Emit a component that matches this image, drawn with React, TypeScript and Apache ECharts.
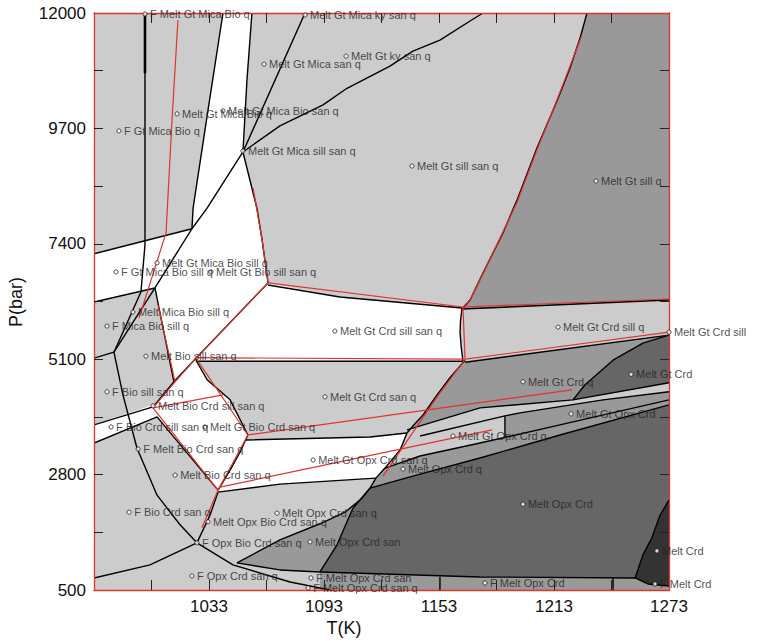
import React, { useEffect, useRef } from "react";
import * as echarts from "echarts";

type Pt = [number, number];

// ---- axes ----
const xTicks = [1003, 1033, 1063, 1093, 1123, 1153, 1183, 1213, 1243];
const xTickLabels = [1033, 1093, 1153, 1213, 1273];
const yTicks = [1650, 2800, 3950, 5100, 6250, 7400, 8550, 9700, 10850];
const yTickLabels = [500, 2800, 5100, 7400, 9700, 12000];

// ---- filled fields (T in K, P in bar) ----
const fieldMicaStrip: Pt[] = [[1040.3, 12000], [1055.4, 12000], [1052.8, 10660], [1050.7, 9230], [1058, 8110], [1060.7, 7480], [1063.8, 6620], [1026.2, 5120], [1014.7, 4650], [1004.8, 6520], [1024.1, 7700], [1024.7, 8110], [1032.5, 10070]];
const fieldBioSillBand: Pt[] = [[973, 7200], [1024.1, 7700], [1004.8, 6520], [973, 6240]];
const fieldCrdSillSan: Pt[] = [[1063.8, 6620], [1101.3, 6340], [1165, 6120], [1164, 5620], [1165.5, 5060], [1026.2, 5060], [1026.2, 5120]];
const fieldBioCrd: Pt[] = [[1014.7, 4650], [1026.2, 5120], [1032, 4690], [1044, 4290], [1053.3, 3590], [1049.2, 3250], [1044, 2890], [1037.7, 2490], [1005.9, 3950], [1003.8, 4130]];
const fieldFBioCrd: Pt[] = [[973, 3790], [1003.8, 4190], [1005.9, 3950], [973, 3430]];
const fieldGtOpxCrdSan: Pt[] = [[1052.3, 3490], [1117, 3550], [1136.3, 3630], [1132.7, 3290], [1124.8, 2930], [1120.1, 2730], [1070, 2610], [1037.7, 2450], [1044, 2890], [1049.2, 3250]];
const fieldGtSillQ: Pt[] = [[1230.2, 12000], [1273, 12000], [1273, 6280], [1165, 6100], [1169.2, 6280], [1176, 6820], [1186.4, 7620], [1193.7, 8270], [1204.1, 9310], [1214.6, 10250], [1221.3, 10900], [1226.6, 11500]];
const fieldGtCrdQ: Pt[] = [[1166.6, 5040], [1273, 5580], [1259.4, 5420], [1243.8, 5080], [1229.2, 4590], [1222.9, 4290], [1174.4, 4130], [1136.3, 3690], [1139.4, 3770], [1144.7, 3990], [1152, 4390], [1158.7, 4730]];
const fieldGtCrd: Pt[] = [[1273, 5580], [1273, 4630], [1222.9, 4290], [1229.2, 4590], [1243.8, 5080], [1259.4, 5420]];
const fieldGtOpxCrd: Pt[] = [[1187.4, 3970], [1195.3, 4030], [1238.6, 4290], [1273, 4450], [1273, 4290], [1216.1, 3790], [1187.4, 3550]];
const fieldOpxCrdQ: Pt[] = [[1124.8, 2930], [1143.1, 3170], [1174.4, 3430], [1216.1, 3790], [1273, 4290], [1273, 4190], [1216.1, 3590], [1174.4, 3130], [1143.1, 2810], [1117, 2530], [1120.1, 2730]];
const fieldOpxCrd: Pt[] = [[1117, 2530], [1143.1, 2810], [1174.4, 3130], [1216.1, 3590], [1273, 4190], [1273, 2290], [1268.3, 1990], [1264.1, 1540], [1259.4, 1200], [1255.3, 740], [1174.4, 760], [1090.9, 860], [1099.8, 1400], [1105, 1860], [1108.1, 2130]];
const fieldCrd: Pt[] = [[1273, 2290], [1268.3, 1990], [1264.1, 1540], [1259.4, 1200], [1255.3, 740], [1262, 620], [1273, 580]];
const fieldFMeltOpxCrd: Pt[] = [[1090.9, 860], [1174.4, 760], [1255.3, 740], [1262, 620], [1273, 580], [1273, 500], [1090.9, 500]];
const fieldOpxCrdSan: Pt[] = [[1047.6, 1040], [1070, 1500], [1090.9, 1820], [1104, 2050], [1112.8, 2330], [1117, 2530], [1108.1, 2130], [1105, 1860], [1099.8, 1400], [1090.9, 860], [1070, 900]];

// ---- black phase boundaries ----
const bV1: Pt[] = [[999.6, 12000], [999.6, 7380], [997.5, 6440], [983.4, 5240]];
const bV1Thick: Pt[] = [[999.6, 12000], [999.6, 10800]];
const bBandTop: Pt[] = [[973, 7200], [1024.1, 7700]];
const bBandBottom: Pt[] = [[973, 6240], [1004.8, 6520]];
const bLine3: Pt[] = [[1024.1, 7700], [1004.8, 6520]];
const bStripLeft: Pt[] = [[1040.3, 12000], [1032.5, 10070], [1024.7, 8110], [1024.1, 7700]];
const bStripRight: Pt[] = [[1055.4, 12000], [1052.8, 10660], [1050.7, 9230]];
const bStripBottom: Pt[] = [[1050.7, 9230], [1032, 8110], [1024.1, 7700]];
const bKy: Pt[] = [[1050.7, 9230], [1083.1, 12000]];
const bSill: Pt[] = [[1050.7, 9230], [1070, 9750], [1092.5, 10170], [1105, 10500], [1127.4, 10940], [1139.4, 11240], [1153.5, 11460], [1169.2, 11840], [1176, 12000]];
const bMicaOut: Pt[] = [[1050.7, 9230], [1058, 8110], [1060.7, 7480], [1063.8, 6620]];
const bLine5: Pt[] = [[1004.8, 6520], [1014.7, 4650]];
const bLine6: Pt[] = [[1004.8, 6520], [983.4, 5240]];
const bLine8: Pt[] = [[973, 5120], [983.4, 5240]];
const bLine10: Pt[] = [[1063.8, 6620], [1026.2, 5120], [1014.7, 4650]];
const bLine11: Pt[] = [[1014.7, 4650], [1003.8, 4150], [973, 3790]];
const bW5Bottom: Pt[] = [[973, 3430], [1005.9, 3950], [1037.7, 2490]];
const bW3Top: Pt[] = [[1063.8, 6580], [1101.3, 6340], [1165, 6120]];
const bW3Right: Pt[] = [[1165, 6120], [1164.2, 5860], [1164, 5620], [1164.6, 5340], [1165.5, 5060]];
const bW3Bottom: Pt[] = [[1026.2, 5060], [1166.6, 5060]];
const bJ3J4: Pt[] = [[1026.2, 5080], [1032, 4690], [1044, 4290], [1053.3, 3590]];
const bW6Top: Pt[] = [[1052.3, 3490], [1117, 3550], [1136.3, 3630]];
const bW4Lower: Pt[] = [[1053.3, 3590], [1049.2, 3250], [1044, 2890], [1037.7, 2490]];
const bW6Bottom: Pt[] = [[1037.7, 2450], [1070, 2610], [1120.1, 2730]];
const bG: Pt[] = [[1037.7, 2450], [1033.5, 1990], [1026.7, 1440]];
const bJag: Pt[] = [[1166.6, 5080], [1158.7, 4730], [1152, 4390], [1144.7, 3990], [1139.4, 3770], [1136.3, 3630], [1132.7, 3290], [1124.8, 2930], [1120.1, 2730], [1117, 2530], [1108.1, 2130], [1105, 1860], [1099.8, 1400], [1090.9, 860]];
const bGtSill: Pt[] = [[1230.2, 12000], [1226.6, 11500], [1221.3, 10900], [1214.6, 10250], [1204.1, 9310], [1193.7, 8270], [1186.4, 7620], [1176, 6820], [1169.2, 6280], [1165, 6100]];
const bGtSillBottom: Pt[] = [[1165, 6100], [1273, 6280]];
const bCrdSillBottom: Pt[] = [[1166.6, 5040], [1273, 5580]];
const bWedgeTop: Pt[] = [[1273, 5580], [1259.4, 5420], [1243.8, 5080], [1229.2, 4590], [1222.9, 4290]];
const bAlpha: Pt[] = [[1273, 4630], [1222.9, 4290], [1174.4, 4130], [1136.3, 3690]];
const bBeta: Pt[] = [[1143.1, 3570], [1187.4, 3970], [1195.3, 4030], [1238.6, 4290], [1273, 4450]];
const bGamma: Pt[] = [[1124.8, 2930], [1143.1, 3170], [1174.4, 3430], [1216.1, 3790], [1273, 4290]];
const bDelta: Pt[] = [[1117, 2530], [1143.1, 2810], [1174.4, 3130], [1216.1, 3590], [1273, 4190]];
const bDivider: Pt[] = [[1187.4, 3970], [1187.4, 3550]];
const bCrd: Pt[] = [[1273, 2290], [1268.3, 1990], [1264.1, 1540], [1259.4, 1200], [1255.3, 740], [1262, 620], [1273, 580]];
const bStripTop: Pt[] = [[1070, 900], [1090.9, 860], [1174.4, 760], [1255.3, 740]];
const bVert1: Pt[] = [[1153.5, 760], [1153.5, 500]];
const bVert2: Pt[] = [[1243.8, 740], [1243.8, 500]];
const bCurve: Pt[] = [[983.4, 5240], [988.1, 4390], [995.4, 3330], [1005.9, 2390], [1017.9, 1800], [1026.7, 1440], [1045.5, 1000], [1075.3, 660], [1096.1, 500]];
const bF: Pt[] = [[973, 740], [1002.2, 1000], [1026.7, 1440]];
const bM6Top: Pt[] = [[1047.6, 1040], [1070, 1500], [1090.9, 1820], [1104, 2050], [1112.8, 2330], [1117, 2530]];
const bM6Bottom: Pt[] = [[1047.6, 1040], [1070, 900]];

// ---- red reaction lines ----
const r1: Pt[] = [[1016.8, 11860], [1013.7, 9870], [1010.6, 7620], [996.5, 5920]];
const r2: Pt[] = [[1006.4, 6180], [1015.3, 4650]];
const r3: Pt[] = [[1015.3, 4650], [1026.2, 5120], [1063.8, 6620]];
const r4: Pt[] = [[1056, 8510], [1060.7, 7480], [1063.8, 6620]];
const r5: Pt[] = [[1063.8, 6620], [1165.5, 6140]];
const r6: Pt[] = [[1026.2, 5130], [1165.5, 5100]];
const r7: Pt[] = [[1165.5, 6140], [1273, 6300]];
const r8: Pt[] = [[1165.5, 6140], [1166.6, 5100]];
const r9: Pt[] = [[1166.6, 5100], [1273, 5640]];
const r10: Pt[] = [[1166.6, 5100], [1152, 4350], [1123.8, 2770]];
const r11: Pt[] = [[1165.5, 6140], [1169.2, 6280], [1180.7, 7180], [1193.7, 8230], [1204.1, 9270], [1214.6, 10270], [1227.6, 11560]];
const r12: Pt[] = [[1026.2, 5120], [1053.3, 3590]];
const r13: Pt[] = [[1053.3, 3590], [1222.4, 4490]];
const r14: Pt[] = [[1053.3, 3590], [1037.7, 2490], [1029.3, 1740]];
const r15: Pt[] = [[1040.3, 4390], [1003.8, 4130], [1037.7, 2490]];
const r16: Pt[] = [[1015.3, 4650], [1003.8, 4130]];
const r17: Pt[] = [[1038.7, 2550], [1180.7, 3690]];

// ---- field labels: T, P, assemblage ----
const fieldLabels: [number, number, string][] = [
  [999.6, 11980, "F Melt Gt Mica Bio q"],
  [986, 9650, "F Gt Mica Bio q"],
  [1016.3, 9990, "Melt Gt Mica Bio q"],
  [1040.3, 10050, "Melt Gt Mica Bio san q"],
  [1050.7, 9250, "Melt Gt Mica sill san q"],
  [1061.7, 10980, "Melt Gt Mica san q"],
  [1083.1, 11960, "Melt Gt Mica ky san q"],
  [1104.5, 11140, "Melt Gt ky san q"],
  [1138.9, 8950, "Melt Gt sill san q"],
  [1234.9, 8650, "Melt Gt sill q"],
  [1005.9, 7020, "Melt Gt Mica Bio sill q"],
  [984.5, 6840, "F Gt Mica Bio sill q"],
  [1034, 6840, "Melt Gt Bio sill san q"],
  [993.3, 6040, "Melt Mica Bio sill q"],
  [979.8, 5760, "F Mica Bio sill q"],
  [1000.1, 5160, "Melt Bio sill san q"],
  [979.8, 4450, "F Bio sill san q"],
  [1003.8, 4170, "Melt Bio Crd sill san q"],
  [981.9, 3750, "F Bio Crd sill san q"],
  [1030.9, 3750, "Melt Gt Bio Crd san q"],
  [996, 3310, "F Melt Bio Crd san q"],
  [1015.3, 2790, "Melt Bio Crd san q"],
  [991.3, 2050, "F Bio Crd san q"],
  [1032.5, 1860, "Melt Opx Bio Crd san q"],
  [1026.7, 1440, "F Opx Bio Crd san q"],
  [1024.1, 780, "F Opx Crd san q"],
  [1098.7, 5660, "Melt Gt Crd sill san q"],
  [1093.5, 4350, "Melt Gt Crd san q"],
  [1087.3, 3090, "Melt Gt Opx Crd san q"],
  [1068.5, 2030, "Melt Opx Crd san q"],
  [1085.7, 1460, "Melt Opx Crd san"],
  [1086.2, 740, "F Melt Opx Crd san"],
  [1084.7, 540, "F Melt Opx Crd san q"],
  [1160.3, 3570, "Melt Gt Opx Crd q"],
  [1134.2, 2910, "Melt Opx Crd q"],
  [1215.1, 5740, "Melt Gt Crd sill q"],
  [1273, 5640, "Melt Gt Crd sill"],
  [1196.8, 4650, "Melt Gt Crd q"],
  [1253.2, 4800, "Melt Gt Crd"],
  [1221.9, 4010, "Melt Gt Opx Crd"],
  [1196.8, 2210, "Melt Opx Crd"],
  [1266.7, 1280, "Melt Crd"],
  [1265.7, 620, "F Melt Crd"],
  [1177, 640, "F Melt Opx Crd"],
];

const LIGHT = "#cccccc";
const WHITE = "#ffffff";
const MID = "#999999";
const DARK = "#666666";
const DARKEST = "#333333";
const RED = "#e2332c";
const FONT = "'Liberation Sans', Arial, Helvetica, sans-serif";

const fills = [
  { pts: fieldMicaStrip, color: WHITE },
  { pts: fieldBioSillBand, color: WHITE },
  { pts: fieldCrdSillSan, color: WHITE },
  { pts: fieldBioCrd, color: WHITE },
  { pts: fieldFBioCrd, color: WHITE },
  { pts: fieldGtOpxCrdSan, color: WHITE },
  { pts: fieldGtSillQ, color: MID },
  { pts: fieldGtCrdQ, color: MID },
  { pts: fieldGtCrd, color: DARK },
  { pts: fieldGtOpxCrd, color: MID },
  { pts: fieldOpxCrdQ, color: MID },
  { pts: fieldOpxCrd, color: DARK },
  { pts: fieldCrd, color: DARKEST },
  { pts: fieldFMeltOpxCrd, color: MID },
  { pts: fieldOpxCrdSan, color: MID },
];

const blackLines: { pts: Pt[]; w: number }[] = [
  bV1, bBandTop, bBandBottom, bLine3, bStripLeft, bStripRight, bStripBottom, bKy, bSill,
  bMicaOut, bLine5, bLine6, bLine8, bLine10, bLine11, bW5Bottom, bW3Top, bW3Right, bW3Bottom,
  bJ3J4, bW6Top, bW4Lower, bW6Bottom, bG, bJag, bGtSill, bGtSillBottom, bCrdSillBottom,
  bWedgeTop, bAlpha, bBeta, bGamma, bDelta, bDivider, bCrd, bStripTop, bVert1, bVert2,
  bCurve, bF, bM6Top, bM6Bottom,
].map((pts) => ({ pts, w: 1.4 })).concat([{ pts: bV1Thick, w: 2.6 }]);

const redLines: Pt[][] = [r1, r2, r3, r4, r5, r6, r7, r8, r9, r10, r11, r12, r13, r14, r15, r16, r17];

export default function App() {
  const ref = useRef<HTMLDivElement>(null);
  useEffect(() => {
    if (!ref.current) return;
    const chart = echarts.init(ref.current, null, { renderer: "svg" });

    const axisLineStyle = { show: true, onZero: false, lineStyle: { color: RED, width: 1.3 } };
    const mkX = (pos: "bottom" | "top", labels: boolean) => ({
      type: "value",
      min: 973,
      max: 1273,
      position: pos,
      z: 10,
      axisLine: axisLineStyle,
      axisTick: { show: true, inside: true, length: 10, customValues: xTicks, lineStyle: { color: "#222", width: 1 } },
      axisLabel: {
        show: labels,
        customValues: xTickLabels,
        fontSize: 17,
        color: "#111",
        fontFamily: FONT,
        margin: 8,
        formatter: (v: number) => String(v),
      },
      splitLine: { show: false },
    });
    const mkY = (pos: "left" | "right", labels: boolean) => ({
      type: "value",
      min: 500,
      max: 12000,
      position: pos,
      z: 10,
      axisLine: axisLineStyle,
      axisTick: { show: true, inside: true, length: 9, customValues: yTicks, lineStyle: { color: "#222", width: 1 } },
      axisLabel: {
        show: labels,
        customValues: yTickLabels,
        fontSize: 17,
        color: "#111",
        fontFamily: FONT,
        margin: 8,
        formatter: (v: number) => String(v),
      },
      splitLine: { show: false },
    });

    const option: any = {
      animation: false,
      backgroundColor: "#ffffff",
      grid: {
        left: 94,
        top: 13,
        right: 92,
        bottom: 51,
        show: true,
        backgroundColor: LIGHT,
        borderWidth: 0,
        containLabel: false,
        outerBoundsMode: "none",
      },
      xAxis: [mkX("bottom", true), mkX("top", false)],
      yAxis: [mkY("left", true), mkY("right", false)],
      graphic: [
        {
          type: "text",
          x: 344,
          y: 628,
          style: { text: "T(K)", fontSize: 18, fontFamily: FONT, fill: "#111", align: "center", verticalAlign: "middle" },
        },
        {
          type: "text",
          x: 16,
          y: 302,
          rotation: Math.PI / 2,
          style: { text: "P(bar)", fontSize: 18, fontFamily: FONT, fill: "#111", align: "center", verticalAlign: "middle" },
        },
      ],
      series: [
        {
          type: "custom",
          name: "fields",
          xAxisIndex: 0,
          yAxisIndex: 0,
          z: 1,
          silent: true,
          clip: true,
          data: fills.map((f) => [f.pts[0][0], f.pts[0][1]]),
          encode: { x: 0, y: 1 },
          renderItem: (params: any, api: any) => {
            const f = fills[params.dataIndex];
            return {
              type: "polygon",
              shape: { points: f.pts.map((p) => api.coord(p)) },
              style: { fill: f.color, stroke: null },
            };
          },
        },
        {
          type: "custom",
          name: "boundaries",
          xAxisIndex: 0,
          yAxisIndex: 0,
          z: 2,
          silent: true,
          clip: true,
          data: blackLines.map((l) => [l.pts[0][0], l.pts[0][1]]),
          encode: { x: 0, y: 1 },
          renderItem: (params: any, api: any) => {
            const l = blackLines[params.dataIndex];
            return {
              type: "polyline",
              shape: { points: l.pts.map((p) => api.coord(p)) },
              style: { fill: null, stroke: "#000", lineWidth: l.w, lineJoin: "round" },
            };
          },
        },
        {
          type: "custom",
          name: "reactions",
          xAxisIndex: 0,
          yAxisIndex: 0,
          z: 3,
          silent: true,
          clip: true,
          data: redLines.map((l) => [l[0][0], l[0][1]]),
          encode: { x: 0, y: 1 },
          renderItem: (params: any, api: any) => {
            const l = redLines[params.dataIndex];
            return {
              type: "polyline",
              shape: { points: l.map((p) => api.coord(p)) },
              style: { fill: null, stroke: RED, lineWidth: 1.2 },
            };
          },
        },
        {
          type: "scatter",
          name: "labels",
          xAxisIndex: 0,
          yAxisIndex: 0,
          z: 12,
          silent: true,
          clip: false,
          symbol: "circle",
          symbolSize: 4.2,
          itemStyle: { color: "#ffffff", borderColor: "#111", borderWidth: 0.9 },
          label: {
            show: true,
            position: "right",
            distance: 2.5,
            formatter: "{b}",
            fontSize: 11,
            color: "#222",
            fontFamily: FONT,
          },
          data: fieldLabels.map(([t, p, n]) => ({ name: n, value: [t, p] })),
        },
      ],
    };
    chart.setOption(option);
    return () => chart.dispose();
  }, []);
  return (
    <div
      ref={ref}
      style={{ position: "fixed", left: 0, top: 0, width: "761px", height: "641px", background: "#fff" }}
    />
  );
}
